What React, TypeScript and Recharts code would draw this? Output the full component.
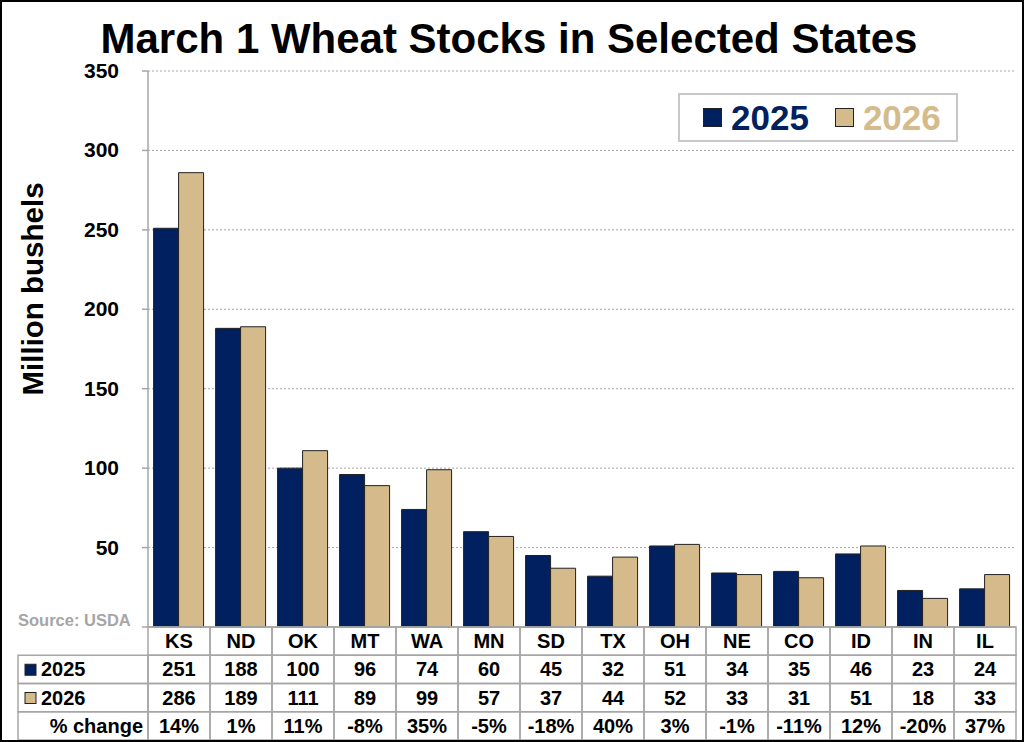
import React from "react";
import { BarChart, Bar, XAxis, YAxis, CartesianGrid, Legend } from "recharts";

// March 1 wheat stocks, million bushels (USDA)
const states = ["KS", "ND", "OK", "MT", "WA", "MN", "SD", "TX", "OH", "NE", "CO", "ID", "IN", "IL"];
const stocks2025 = [251, 188, 100, 96, 74, 60, 45, 32, 51, 34, 35, 46, 23, 24];
const stocks2026 = [286, 189, 111, 89, 99, 57, 37, 44, 52, 33, 31, 51, 18, 33];
const pctChange = ["14%", "1%", "11%", "-8%", "35%", "-5%", "-18%", "40%", "3%", "-1%", "-11%", "12%", "-20%", "37%"];
const yTicks = [0, 50, 100, 150, 200, 250, 300, 350];
const seriesNames = ["2025", "2026"];

const W = 1024;
const H = 742;
const margin = { top: 71, right: 8, bottom: 0, left: 88 };
const Y_AXIS_W = 60;
const X_AXIS_H = 115;
const PLOT_W = W - margin.left - Y_AXIS_W - margin.right;
const ROW_H = 28.25;

const NAVY = "#002060";
const TAN = "#D5BB8B";
const GRID = "#A6A6A6";
const CELL = "#A6A6A6";
const FONT = '"Liberation Sans", Arial, Helvetica, sans-serif';

const data = states.map((s, i) => ({
  state: s,
  y2025: stocks2025[i],
  y2026: stocks2026[i],
}));

// each x tick draws its own column of the data table
function TableTick(props: any) {
  const { x, y, payload } = props;
  const i = states.indexOf(payload.value);
  const cw = PLOT_W / states.length;
  const cells = [states[i], String(stocks2025[i]), String(stocks2026[i]), pctChange[i]];
  return (
    <g>
      {cells.map((c, r) => (
        <g key={r}>
          <rect
            x={x - cw / 2}
            y={y + r * ROW_H}
            width={cw}
            height={ROW_H}
            fill="none"
            stroke={CELL}
            strokeWidth={1.5}
          />
          <text
            x={x}
            y={y + r * ROW_H + ROW_H / 2 + 7}
            textAnchor="middle"
            fontFamily={FONT}
            fontWeight="bold"
            fontSize={20}
            fill="#000"
          >
            {c}
          </text>
        </g>
      ))}
    </g>
  );
}

function YTick(props: any) {
  const { x, y, payload } = props;
  if (payload.value === 0) return <g />;
  return (
    <text x={x} y={y} dy={7} textAnchor="end" fontFamily={FONT} fontWeight="bold" fontSize={21} fill="#000">
      {payload.value}
    </text>
  );
}

function LegendBox(props: any) {
  const items = props.payload || [];
  return (
    <div
      style={{
        boxSizing: "border-box",
        width: 280,
        height: 49,
        border: "2px solid #C8C8C8",
        display: "flex",
        alignItems: "center",
        paddingLeft: 23,
        fontFamily: FONT,
        background: "#fff",
      }}
    >
      {items.map((it: any, k: number) => (
        <div key={k} style={{ display: "flex", alignItems: "center", marginRight: 26 }}>
          <span
            style={{
              display: "inline-block",
              boxSizing: "border-box",
              width: 19,
              height: 19,
              background: it.color,
              border: "1.5px solid #222",
              marginRight: 9,
            }}
          />
          <span style={{ fontSize: 35, fontWeight: "bold", color: it.color, lineHeight: "35px" }}>{it.value}</span>
        </div>
      ))}
    </div>
  );
}

function Overlay() {
  const top = margin.top + (H - margin.top - X_AXIS_H);
  const left = margin.left + Y_AXIS_W;
  const rows = [
    { label: "2025", color: NAVY },
    { label: "2026", color: TAN },
  ];
  return (
    <svg width={W} height={H} style={{ position: "absolute", left: 0, top: 0, pointerEvents: "none" }}>
      <text x={509} y={53} textAnchor="middle" fontFamily={FONT} fontWeight="bold" fontSize={42} fill="#000">
        March 1 Wheat Stocks in Selected States
      </text>
      <text
        transform="translate(43, 289) rotate(-90)"
        textAnchor="middle"
        fontFamily={FONT}
        fontWeight="bold"
        fontSize={29.5}
        fill="#000"
      >
        Million bushels
      </text>
      <text x={18} y={626} fontFamily={FONT} fontWeight="bold" fontSize={16.5} fill="#A6A6A6">
        Source: USDA
      </text>
      {rows.map((r, k) => {
        const ry = top + (k + 1) * ROW_H;
        return (
          <g key={k}>
            <rect x={18} y={ry} width={left - 18} height={ROW_H} fill="none" stroke={CELL} strokeWidth={1.5} />
            <rect x={25} y={ry + 9} width={11} height={11} fill={r.color} stroke="#222" strokeWidth={1} />
            <text x={41} y={ry + ROW_H / 2 + 7} fontFamily={FONT} fontWeight="bold" fontSize={20} fill="#000">
              {r.label}
            </text>
          </g>
        );
      })}
      <rect x={18} y={top + 3 * ROW_H} width={left - 18} height={ROW_H} fill="none" stroke={CELL} strokeWidth={1.5} />
      <text
        x={left - 5}
        y={top + 3 * ROW_H + ROW_H / 2 + 7}
        textAnchor="end"
        fontFamily={FONT}
        fontWeight="bold"
        fontSize={20}
        fill="#000"
      >
        % change
      </text>
      <rect x={1} y={1} width={W - 2} height={H - 2} fill="none" stroke="#000" strokeWidth={2} />
    </svg>
  );
}

export default function App() {
  return (
    <div style={{ position: "absolute", left: 0, top: 0, width: W, height: H, background: "#fff" }}>
      <BarChart width={W} height={H} data={data} margin={margin} barGap={0} barCategoryGap="9%">
        <CartesianGrid vertical={false} stroke={GRID} strokeDasharray="2 2" />
        <XAxis
          dataKey="state"
          height={X_AXIS_H}
          interval={0}
          tickSize={0}
          tickMargin={0}
          tickLine={false}
          axisLine={{ stroke: GRID, strokeWidth: 1.5 }}
          tick={<TableTick />}
        />
        <YAxis
          width={Y_AXIS_W}
          domain={[0, 350]}
          ticks={yTicks}
          interval={0}
          tickSize={6}
          tickMargin={23}
          tickLine={{ stroke: GRID, strokeWidth: 1.5 }}
          axisLine={{ stroke: GRID, strokeWidth: 1.5 }}
          tick={<YTick />}
        />
        <Legend
          layout="horizontal"
          verticalAlign="middle"
          align="center"
          content={<LegendBox />}
          wrapperStyle={{ left: 678, top: 93, width: 280, height: 49 }}
        />
        <Bar dataKey="y2025" name={seriesNames[0]} fill={NAVY} stroke="#222" strokeWidth={1} isAnimationActive={false} />
        <Bar dataKey="y2026" name={seriesNames[1]} fill={TAN} stroke="#222" strokeWidth={1} isAnimationActive={false} />
      </BarChart>
      <Overlay />
    </div>
  );
}
